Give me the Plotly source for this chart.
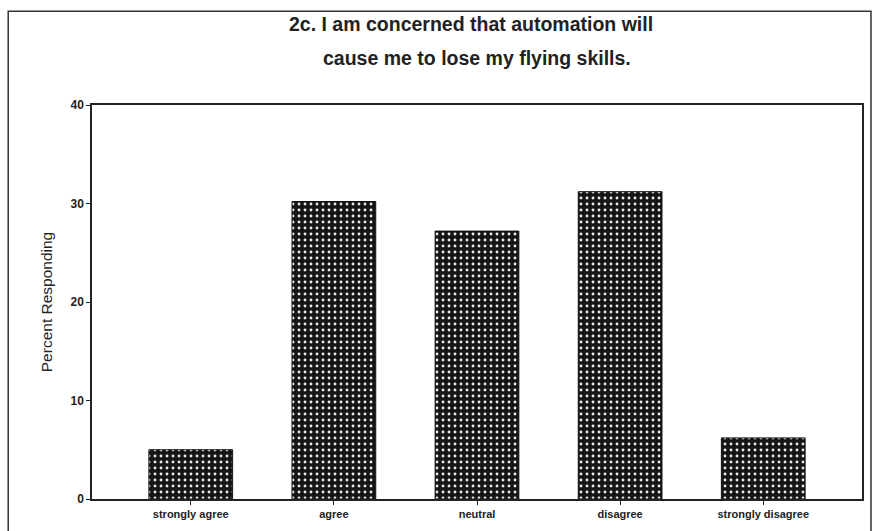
import plotly.graph_objects as go

categories = ["strongly agree", "agree", "neutral", "disagree", "strongly disagree"]
values = [5.0, 30.2, 27.2, 31.2, 6.2]
y_ticks = [0, 10, 20, 30, 40]
title_lines = ["2c. I am concerned that automation will", "cause me to lose my flying skills."]

W, H = 875, 531
L, R, T, B = 92, 11, 105, 31

fig = go.Figure(go.Bar(
    x=categories, y=values, width=0.585,
    marker=dict(color="#151515", line=dict(color="#111111", width=1),
                pattern=dict(shape=".", bgcolor="#151515", fgcolor="#e8e8e8",
                             size=6, solidity=0.18, fillmode="replace")),
))

pw = W - L - R
ph = H - T - B
def px2paper_x(px):
    return (px - L) / pw
def py2paper_y(py):
    return (H - B - py) / ph

fig.add_shape(type="rect", xref="paper", yref="paper",
              x0=px2paper_x(8), x1=px2paper_x(873), y0=py2paper_y(535), y1=py2paper_y(11),
              line=dict(color="#333333", width=1.5), fillcolor="rgba(0,0,0,0)", layer="below")

for txt, cx, cy in zip(title_lines, [472, 478], [24, 58]):
    fig.add_annotation(text=txt, xref="paper", yref="paper",
                       x=px2paper_x(cx), y=py2paper_y(cy), xanchor="center", yanchor="middle",
                       showarrow=False,
                       font=dict(family="Liberation Sans, Arial", size=19.5, color="#222222",
                                 weight="bold"))

fig.update_layout(
    width=W, height=H,
    margin=dict(l=L, r=R, t=T, b=B),
    paper_bgcolor="white", plot_bgcolor="white",
    showlegend=False,
    font=dict(family="Liberation Sans, Arial", color="#222222"),
)
fig.update_xaxes(range=[-0.69, 4.69], showline=True, linecolor="#222222", linewidth=1.5,
                 mirror=True, ticks="outside", ticklen=4, tickcolor="#222222",
                 tickfont=dict(size=11, weight="bold"),
                 showgrid=False, zeroline=False)
fig.update_yaxes(range=[0, 40], tickvals=y_ticks, showline=True, linecolor="#222222", linewidth=1.5,
                 mirror=True, ticks="outside", ticklen=4, tickcolor="#222222",
                 tickfont=dict(size=12, weight="bold"), showgrid=False, zeroline=False,
                 title=dict(text="Percent Responding", font=dict(size=15.5), standoff=14))

fig.write_html("out.html", config={"displayModeBar": False},
               post_script="document.body.style.margin='0';document.body.style.overflow='hidden';")
